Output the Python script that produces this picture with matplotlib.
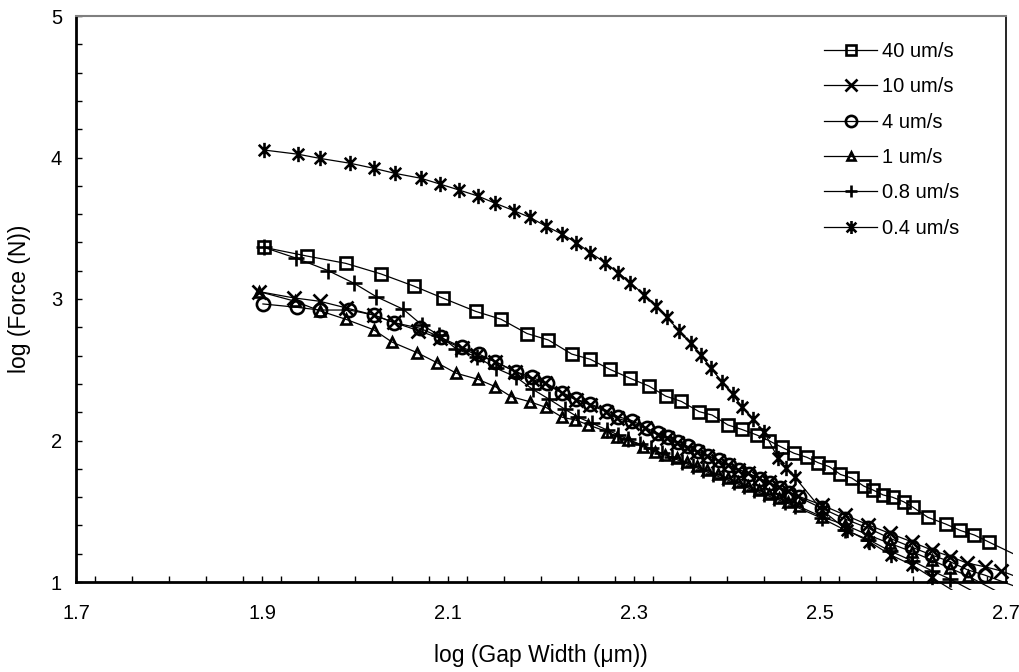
import matplotlib
matplotlib.use("Agg")
import matplotlib.pyplot as plt
from matplotlib.path import Path
from matplotlib.ticker import MultipleLocator, FixedLocator, FuncFormatter
from matplotlib.transforms import Bbox, TransformedBbox

plt.rcParams['font.family'] = ['Liberation Sans', 'DejaVu Sans']

# ---------------- data ----------------
labels = ["40 um/s", "10 um/s", "4 um/s", "1 um/s", "0.8 um/s", "0.4 um/s"]

x40 = [1.902, 1.948, 1.990, 2.028, 2.063, 2.095, 2.130, 2.157, 2.185, 2.208, 2.233, 2.253, 2.274, 2.296,
       2.316, 2.334, 2.351, 2.370, 2.384, 2.401, 2.416, 2.432, 2.445, 2.459, 2.472, 2.486, 2.498, 2.510,
       2.522, 2.534, 2.547, 2.557, 2.568, 2.578, 2.590, 2.600, 2.616, 2.635, 2.651, 2.666, 2.682]
y40 = [3.365, 3.304, 3.252, 3.177, 3.092, 3.005, 2.912, 2.857, 2.756, 2.710, 2.611, 2.574, 2.503, 2.439,
       2.385, 2.314, 2.276, 2.204, 2.180, 2.110, 2.078, 2.039, 1.999, 1.952, 1.910, 1.881, 1.843, 1.815,
       1.760, 1.735, 1.678, 1.650, 1.615, 1.599, 1.567, 1.528, 1.457, 1.410, 1.364, 1.332, 1.281]

x10 = [1.897, 1.934, 1.962, 1.990, 2.020, 2.042, 2.068, 2.091, 2.115, 2.131, 2.151, 2.172, 2.190, 2.204,
       2.223, 2.238, 2.253, 2.270, 2.282, 2.298, 2.312, 2.326, 2.336, 2.346, 2.357, 2.368, 2.379, 2.390,
       2.401, 2.412, 2.423, 2.434, 2.445, 2.456, 2.466, 2.476, 2.502, 2.527, 2.552, 2.575, 2.599, 2.620,
       2.640, 2.658, 2.677, 2.695]
y10 = [3.052, 3.008, 2.984, 2.938, 2.887, 2.834, 2.777, 2.722, 2.652, 2.604, 2.557, 2.486, 2.433, 2.404,
       2.334, 2.286, 2.251, 2.204, 2.157, 2.126, 2.086, 2.039, 2.016, 1.984, 1.950, 1.921, 1.890, 1.858,
       1.829, 1.795, 1.768, 1.735, 1.704, 1.672, 1.640, 1.608, 1.544, 1.473, 1.403, 1.344, 1.283, 1.226,
       1.180, 1.134, 1.108, 1.078]

x4 = [1.901, 1.938, 1.962, 1.994, 2.020, 2.042, 2.070, 2.092, 2.115, 2.133, 2.151, 2.173, 2.190, 2.206,
      2.223, 2.238, 2.253, 2.271, 2.283, 2.298, 2.314, 2.326, 2.337, 2.347, 2.358, 2.369, 2.380, 2.391,
      2.402, 2.413, 2.424, 2.435, 2.446, 2.457, 2.467, 2.477, 2.502, 2.527, 2.552, 2.575, 2.599, 2.620,
      2.640, 2.659, 2.677]
y4 = [2.965, 2.941, 2.922, 2.922, 2.887, 2.833, 2.793, 2.729, 2.659, 2.611, 2.557, 2.486, 2.447, 2.404,
      2.338, 2.291, 2.258, 2.211, 2.168, 2.140, 2.086, 2.051, 2.023, 1.992, 1.958, 1.925, 1.893, 1.860,
      1.826, 1.795, 1.762, 1.730, 1.697, 1.664, 1.632, 1.600, 1.521, 1.445, 1.380, 1.309, 1.245, 1.191,
      1.143, 1.085, 1.049]

x1 = [1.897, 1.935, 1.962, 1.990, 2.020, 2.040, 2.067, 2.088, 2.109, 2.132, 2.151, 2.168, 2.188, 2.205,
      2.223, 2.237, 2.251, 2.271, 2.282, 2.294, 2.310, 2.323, 2.333, 2.346, 2.357, 2.368, 2.379, 2.390,
      2.401, 2.412, 2.423, 2.434, 2.445, 2.456, 2.466, 2.477, 2.502, 2.527, 2.552, 2.575, 2.599, 2.620,
      2.640, 2.659]
y1 = [3.052, 2.985, 2.917, 2.857, 2.783, 2.695, 2.620, 2.550, 2.475, 2.433, 2.380, 2.310, 2.274, 2.235,
      2.164, 2.145, 2.110, 2.062, 2.027, 2.004, 1.956, 1.921, 1.898, 1.874, 1.845, 1.817, 1.790, 1.762,
      1.735, 1.707, 1.680, 1.650, 1.622, 1.594, 1.566, 1.535, 1.461, 1.403, 1.332, 1.273, 1.214, 1.155,
      1.097, 1.042]

x08 = [1.902, 1.937, 1.971, 1.999, 2.023, 2.052, 2.072, 2.090, 2.109, 2.131, 2.152, 2.173, 2.191, 2.209,
       2.226, 2.240, 2.255, 2.271, 2.283, 2.294, 2.306, 2.318, 2.330, 2.341, 2.352, 2.363, 2.374, 2.385,
       2.396, 2.407, 2.418, 2.429, 2.440, 2.451, 2.462, 2.473, 2.502, 2.527, 2.552, 2.575, 2.599, 2.620,
       2.640]
y08 = [3.365, 3.288, 3.201, 3.111, 3.016, 2.927, 2.816, 2.746, 2.647, 2.590, 2.510, 2.449, 2.362, 2.291,
       2.220, 2.164, 2.122, 2.074, 2.040, 2.008, 1.975, 1.944, 1.910, 1.880, 1.848, 1.818, 1.790, 1.760,
       1.732, 1.705, 1.676, 1.648, 1.620, 1.592, 1.563, 1.535, 1.450, 1.367, 1.300, 1.220, 1.150, 1.080,
       1.020]

x04 = [1.902, 1.939, 1.962, 1.995, 2.020, 2.043, 2.071, 2.091, 2.112, 2.132, 2.151, 2.171, 2.188, 2.205,
       2.223, 2.238, 2.253, 2.269, 2.283, 2.296, 2.311, 2.324, 2.336, 2.348, 2.361, 2.372, 2.383, 2.395,
       2.406, 2.416, 2.428, 2.440, 2.455, 2.463, 2.473, 2.502, 2.529, 2.553, 2.576, 2.599, 2.620]
y04 = [4.053, 4.023, 3.994, 3.959, 3.924, 3.888, 3.853, 3.813, 3.770, 3.728, 3.676, 3.624, 3.577, 3.516,
       3.457, 3.398, 3.327, 3.257, 3.186, 3.116, 3.028, 2.951, 2.871, 2.774, 2.687, 2.602, 2.510, 2.411,
       2.327, 2.239, 2.150, 2.060, 1.874, 1.804, 1.740, 1.509, 1.367, 1.285, 1.191, 1.120, 1.033]

# line continuation just past the plot frame (as in the reference)
tail_x = [2.73, 2.73, 2.73, 2.70, 2.68, 2.66]
tail_y = [1.13, 0.99, 0.92, 0.90, 0.88, 0.87]

xticks_major = [1.7, 1.9, 2.1, 2.3, 2.5, 2.7]
yticks_major = [1, 2, 3, 4, 5]

# ---------------- style ----------------
ast_path = Path([(0, -1), (0, 1), (-0.75, -0.75), (0.75, 0.75), (-0.75, 0.75), (0.75, -0.75)],
                [Path.MOVETO, Path.LINETO, Path.MOVETO, Path.LINETO, Path.MOVETO, Path.LINETO])
markers = ['s', 'x', 'o', '^', '+', ast_path]
msizes = [8.5, 10, 9.5, 6.5, 11, 11]

W, H = 1019, 672
fig = plt.figure(figsize=(W / 100, H / 100), dpi=100)
L, R, T, B = 76, 1006, 16, 582
ax = fig.add_axes([L / W, 1 - B / H, (R - L) / W, (B - T) / H])

series = [(x40, y40), (x10, y10), (x4, y4), (x1, y1), (x08, y08), (x04, y04)]
clip = TransformedBbox(Bbox([[0.0, -0.014], [1.0075, 1.0]]), ax.transAxes)

handles = []
for i, (xs, ys) in enumerate(series):
    ln, = ax.plot(list(xs) + [tail_x[i]], list(ys) + [tail_y[i]], color='black', lw=0.9, zorder=2)
    ln.set_clip_path(None)
    ln.set_clip_box(clip)
    ax.plot(xs, ys, linestyle='none', marker=markers[i], ms=msizes[i], mfc='none', mec='black',
            mew=1.9, zorder=3, clip_on=False)
    h, = ax.plot([], [], color='black', lw=0.9, marker=markers[i], ms=msizes[i] * 0.85, mfc='none',
                 mec='black', mew=1.9)
    handles.append(h)

ax.set_xlim(1.7, 2.7)
ax.set_ylim(1, 5)

ax.xaxis.set_major_locator(FixedLocator(xticks_major))
ax.xaxis.set_minor_locator(MultipleLocator(0.04))
ax.yaxis.set_major_locator(FixedLocator(yticks_major))
ax.yaxis.set_minor_locator(MultipleLocator(0.2))
ax.xaxis.set_major_formatter(FuncFormatter(lambda v, p: f"{v:.1f}"))
ax.yaxis.set_major_formatter(FuncFormatter(lambda v, p: f"{v:.0f}"))
ax.tick_params(which='both', direction='in', length=4, width=1, color='black', top=False, right=False)
ax.tick_params(axis='x', which='major', labelsize=14.5, pad=16)
ax.tick_params(axis='y', which='major', labelsize=14.5, pad=10)

for s in ['left', 'bottom']:
    ax.spines[s].set_linewidth(2)
    ax.spines[s].set_color('black')
ax.spines['right'].set_linewidth(1.2)
ax.spines['right'].set_color('black')
ax.spines['top'].set_linewidth(1.5)
ax.spines['top'].set_color('#7f7f7f')

ax.set_xlabel("log (Gap Width (\u03bcm))", fontsize=16.5)
ax.set_ylabel("log (Force (N))", fontsize=16.5)
ax.xaxis.set_label_coords(0.5, -(644 - B) / (B - T))
ax.yaxis.set_label_coords(-(L - 31) / (R - L), 0.5)

leg = fig.legend(handles, labels, loc='upper left', bbox_to_anchor=(824 / W, 1 - 42 / H),
                 frameon=False, fontsize=14.5, handlelength=2.64, handletextpad=0.25,
                 labelspacing=0.81, borderpad=0, borderaxespad=0)

fig.savefig("out.png", dpi=100)
